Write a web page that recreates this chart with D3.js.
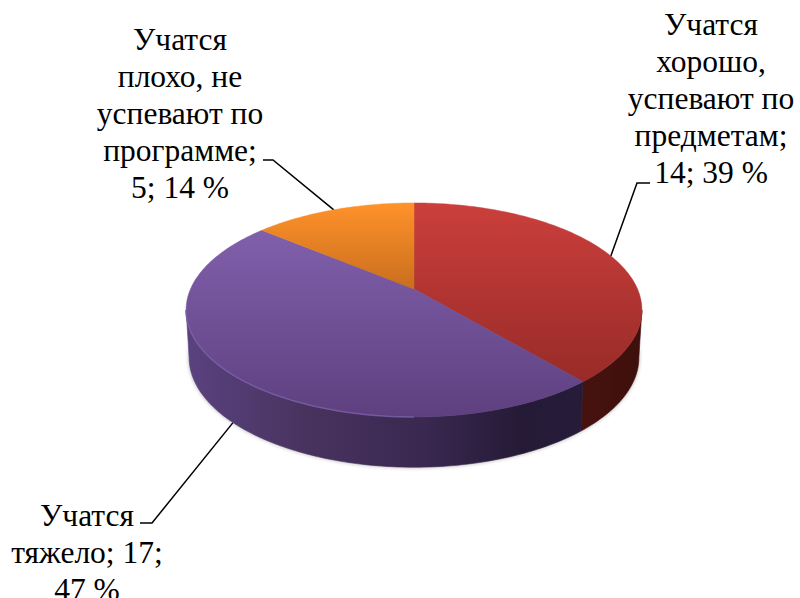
<!DOCTYPE html>
<html><head><meta charset="utf-8">
<script src="https://cdn.jsdelivr.net/npm/d3@7/dist/d3.min.js"></script>
<style>html,body{margin:0;padding:0;background:#fff}svg{display:block}</style>
</head><body><svg id="c" width="800" height="598"></svg>
<script>
const categories = ["Учатся хорошо, успевают по предметам", "Учатся тяжело", "Учатся плохо, не успевают по программе"];
const values = [14, 17, 5];
const percents = [39, 47, 14];
const labelLines = [
  ["Учатся", "хорошо,", "успевают по", "предметам;", "14; 39 %"],
  ["Учатся", "тяжело; 17;", "47 %"],
  ["Учатся", "плохо, не", "успевают по", "программе;", "5; 14 %"]
];
const topColors = [["#cb3f3c", "#982b28"], ["#8060ab", "#5e4080"], ["#ff922a", "#c96e1e"]];
const sideStops = [
  [[0, "#46120f"], [1, "#3e0f0c"]],
  [[0, "#5a4280"], [0.3, "#48335f"], [0.6, "#3a2850"], [0.85, "#251a36"], [1, "#261c3a"]],
  [[0, "#c96e1e"], [1, "#a55a18"]]
];

const svg = d3.select("#c");
const defs = svg.append("defs");
const cx = 414;
const c = -0.196;
// projective view of the disc: apex and scale for the top face and for the base
const topFace = {ax: cx, ay: 289, dx: 223.5, dy: 102.9};
const baseFace = {ax: cx, ay: 336, dx: 220.5, dy: 105.5};
const project = (f, a) => {
  const u = Math.sin(a), v = -Math.cos(a), w = 1 + c * v;
  return [f.ax + f.dx * u / w, f.ay + f.dy * v / w];
};
const arcPts = (f, a0, a1) => {
  const n = Math.max(2, Math.ceil(Math.abs(a1 - a0) / 0.02));
  return d3.range(n + 1).map(i => project(f, a0 + (a1 - a0) * i / n));
};
const line = d3.line();
const pie = d3.pie().sort(null).value(d => d)(values);

const tau = Math.PI * 2;
// the silhouette tangents of the projected disc
const sideStart = Math.acos(c), sideEnd = tau - Math.acos(c);

// gradients
pie.forEach((s, i) => {
  const g = defs.append("linearGradient").attr("id", "top" + i).attr("x1", 0).attr("y1", 0).attr("x2", 0).attr("y2", 1);
  g.append("stop").attr("offset", 0).attr("stop-color", topColors[i][0]);
  g.append("stop").attr("offset", 1).attr("stop-color", topColors[i][1]);
  const h = defs.append("linearGradient").attr("id", "side" + i).attr("x1", 0).attr("y1", 0).attr("x2", 1).attr("y2", 0);
  sideStops[i].forEach(st => h.append("stop").attr("offset", st[0]).attr("stop-color", st[1]));
});
defs.append("filter").attr("id", "soft").attr("x", "-10%").attr("y", "-10%").attr("width", "120%").attr("height", "120%")
  .append("feGaussianBlur").attr("stdDeviation", 2);
defs.append("filter").attr("id", "soft1").attr("x", "-10%").attr("y", "-10%").attr("width", "120%").attr("height", "120%")
  .append("feGaussianBlur").attr("stdDeviation", 0.6);

// leader lines
const leaderAttach = [
  {face: topFace, elbow: [637, 183], end: [650, 183]},
  {face: baseFace, elbow: [152, 523], end: [140, 523]},
  {face: topFace, elbow: [273, 160], end: [263, 160]}
];
const leaders = svg.append("g").attr("fill", "none").attr("stroke", "#000").attr("stroke-width", 1.5);
pie.forEach((s, i) => {
  const a = leaderAttach[i];
  leaders.append("path").attr("d", line([project(a.face, (s.startAngle + s.endAngle) / 2), a.elbow, a.end]));
});

// soft shadow under the base
svg.append("path")
  .attr("d", line(arcPts(baseFace, 0, tau)) + "Z")
  .attr("fill", "#000").attr("opacity", 0.35).attr("filter", "url(#soft)");

// side walls
pie.forEach((s, i) => {
  const a0 = Math.max(s.startAngle, sideStart), a1 = Math.min(s.endAngle, sideEnd);
  if (a1 <= a0) return;
  const pts = arcPts(topFace, a0, a1).concat(arcPts(baseFace, a1, a0));
  svg.append("path").attr("d", line(pts) + "Z")
    .attr("fill", `url(#side${i})`)
    .attr("stroke", `url(#side${i})`).attr("stroke-width", 0.6);
});

// top faces
pie.forEach((s, i) => {
  const pts = [[topFace.ax, topFace.ay]].concat(arcPts(topFace, s.startAngle, s.endAngle));
  svg.append("path").attr("d", line(pts) + "Z").attr("fill", `url(#top${i})`)
    .attr("stroke", `url(#top${i})`).attr("stroke-width", 0.5);
});

// lighter lip along the front-left rim of the top face
svg.append("path")
  .attr("d", line(arcPts(topFace, tau * 0.5, sideEnd)))
  .attr("fill", "none").attr("stroke", "#7c5fa6").attr("stroke-width", 1.5).attr("opacity", 0.8).attr("filter", "url(#soft1)");

// labels
const labelPos = [
  {x: 711, y: 35},
  {x: 87, y: 526},
  {x: 180, y: 50}
];
const dy = 37;
labelLines.forEach((ls, i) => {
  const t = svg.append("text").attr("font-family", "'Liberation Serif','Times New Roman',serif")
    .attr("font-size", 31.5).attr("fill", "#000").attr("text-anchor", "middle");
  ls.forEach((l, j) => t.append("tspan").attr("x", labelPos[i].x).attr("y", labelPos[i].y + j * dy).text(l));
});
</script></body></html>
